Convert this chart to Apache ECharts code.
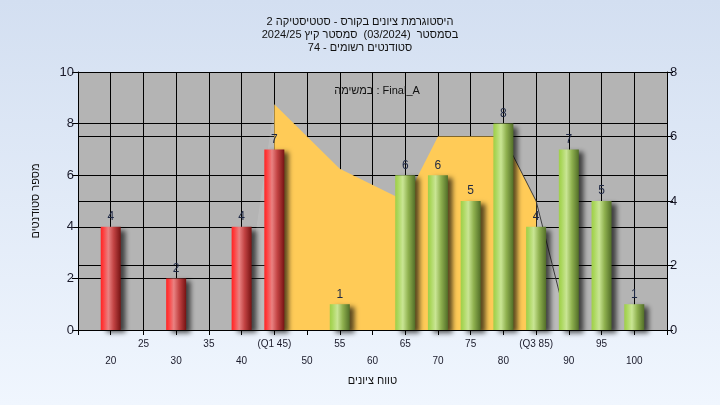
<!DOCTYPE html>
<html><head><meta charset="utf-8">
<script src="https://cdn.jsdelivr.net/npm/echarts@6/dist/echarts.min.js"></script>
<style>html,body{margin:0;padding:0;}#c{width:720px;height:405px;}</style>
</head><body><div id="c"></div>
<script>
// ---- data ----
const scores = [20, 30, 40, 45, 55, 65, 70, 75, 80, 85, 90, 95, 100];
const counts = [4, 2, 4, 7, 1, 6, 6, 5, 8, 4, 7, 5, 1];
const q1 = 45, q3 = 85;
const distX = [40, 45, 55, 65, 70, 80, 85, 90];
const distY = [0, 7, 5, 4, 6, 6, 4, 0];
const xSpecialLabels = {45: '(Q1 45)', 85: '(Q3 85)'};
const titleLines = ['היסטוגרמת ציונים בקורס - סטטיסטיקה 2', 'בסמסטר  (03/2024)  סמסטר קיץ 2024/25', 'סטודנטים רשומים - 74'];
const legendText = 'במשימה : Final_A';
const yTitle = 'מספר סטודנטים';
const xTitle = 'טווח ציונים';

const FF = '"Liberation Sans", Arial, sans-serif';

const pts = (lo, hi) => distX.map((x, i) => [x, distY[i]]).filter(p => p[0] >= lo && p[0] <= hi);

const redGrad = new echarts.graphic.LinearGradient(0, 0, 1, 0, [
  {offset: 0, color: '#ff2424'}, {offset: 0.12, color: '#ff3c3c'}, {offset: 0.38, color: '#e98282'},
  {offset: 0.65, color: '#c24343'}, {offset: 1, color: '#761313'}]);
const greenGrad = new echarts.graphic.LinearGradient(0, 0, 1, 0, [
  {offset: 0, color: '#9fcf48'}, {offset: 0.12, color: '#a9d65a'}, {offset: 0.38, color: '#c9e594'},
  {offset: 0.65, color: '#8fb14f'}, {offset: 1, color: '#526e28'}]);

const chart = echarts.init(document.getElementById('c'));
chart.setOption({
  backgroundColor: new echarts.graphic.LinearGradient(0, 0, 0, 1, [
    {offset: 0, color: '#d3dff1'}, {offset: 1, color: '#f0f6fe'}]),
  animation: false,
  title: [{
    text: titleLines.join('\n'), left: 'center', top: 10,
    textStyle: {fontFamily: FF, fontSize: 11, fontWeight: 'normal', color: '#111', lineHeight: 13}
  }, {
    text: legendText, left: 372, top: 80, textAlign: 'center',
    textStyle: {fontFamily: FF, fontSize: 11, fontWeight: 'normal', color: '#111'}
  }],
  grid: {left: 78, right: 53, top: 72, bottom: 75, show: true, backgroundColor: '#b4b4b4', borderWidth: 0},
  xAxis: {
    type: 'value', min: 15, max: 105, interval: 5,
    name: xTitle, nameLocation: 'middle', nameGap: 45,
    nameTextStyle: {fontFamily: FF, fontSize: 11, color: '#111'},
    axisLine: {show: true, lineStyle: {color: '#000', width: 1}},
    axisTick: {show: true, length: 5, lineStyle: {color: '#000'}},
    splitLine: {show: true, lineStyle: {color: '#000', width: 1}},
    axisLabel: {
      fontFamily: FF, fontSize: 10, color: '#1a1a2a', margin: 6, lineHeight: 17,
      showMinLabel: true, showMaxLabel: true,
      formatter: v => {
        if (v <= 15 || v >= 105) return '';
        const t = xSpecialLabels[v] || String(v);
        return v % 10 === 0 ? '\n' + t : t;
      }
    }
  },
  yAxis: [{
    type: 'value', min: 0, max: 10, interval: 2,
    name: yTitle, nameLocation: 'middle', nameGap: 37,
    nameTextStyle: {fontFamily: FF, fontSize: 11, color: '#111'},
    axisLine: {show: true, lineStyle: {color: '#000'}},
    axisTick: {show: true, length: 6, lineStyle: {color: '#000'}},
    splitLine: {show: true, lineStyle: {color: '#000', width: 1}},
    axisLabel: {fontFamily: FF, fontSize: 13, color: '#1a1a2a', margin: 4}
  }, {
    type: 'value', min: 0, max: 8, interval: 2, position: 'right',
    axisLine: {show: true, lineStyle: {color: '#000'}},
    axisTick: {show: true, length: 6, lineStyle: {color: '#000'}},
    splitLine: {show: true, lineStyle: {color: '#000', width: 1}},
    axisLabel: {fontFamily: FF, fontSize: 13, color: '#1a1a2a', margin: 3}
  }],
  series: [
    {type: 'line', yAxisIndex: 1, z: 2, data: pts(distX[0], q1), symbol: 'none', silent: true,
     lineStyle: {width: 0}, areaStyle: {color: 'rgba(255,255,255,0.1)', opacity: 1}},
    {type: 'line', yAxisIndex: 1, z: 2, data: pts(q1, q3), symbol: 'none', silent: true,
     lineStyle: {width: 0}, areaStyle: {color: '#ffcb57', opacity: 1}},
    {type: 'line', yAxisIndex: 1, z: 2, data: pts(q3, distX[distX.length - 1]), symbol: 'none', silent: true,
     lineStyle: {width: 0}, areaStyle: {color: 'rgba(255,255,255,0.1)', opacity: 1}},
    {type: 'line', yAxisIndex: 1, z: 3, data: pts(80, 90), symbol: 'none', silent: true,
     lineStyle: {width: 1, color: '#3c3c3c'}},
    {type: 'bar', yAxisIndex: 0, z: 5, barWidth: 20,
     data: scores.map((s, i) => ({value: [s, counts[i]], itemStyle: {color: s <= q1 ? redGrad : greenGrad}})),
     itemStyle: {shadowBlur: 5, shadowColor: 'rgba(0,0,0,0.65)', shadowOffsetX: 5, shadowOffsetY: 3},
     label: {show: true, position: 'top', distance: 4, fontFamily: FF, fontSize: 12, color: '#1e2844',
             formatter: p => p.value[1]}}
  ]
});
</script></body></html>
